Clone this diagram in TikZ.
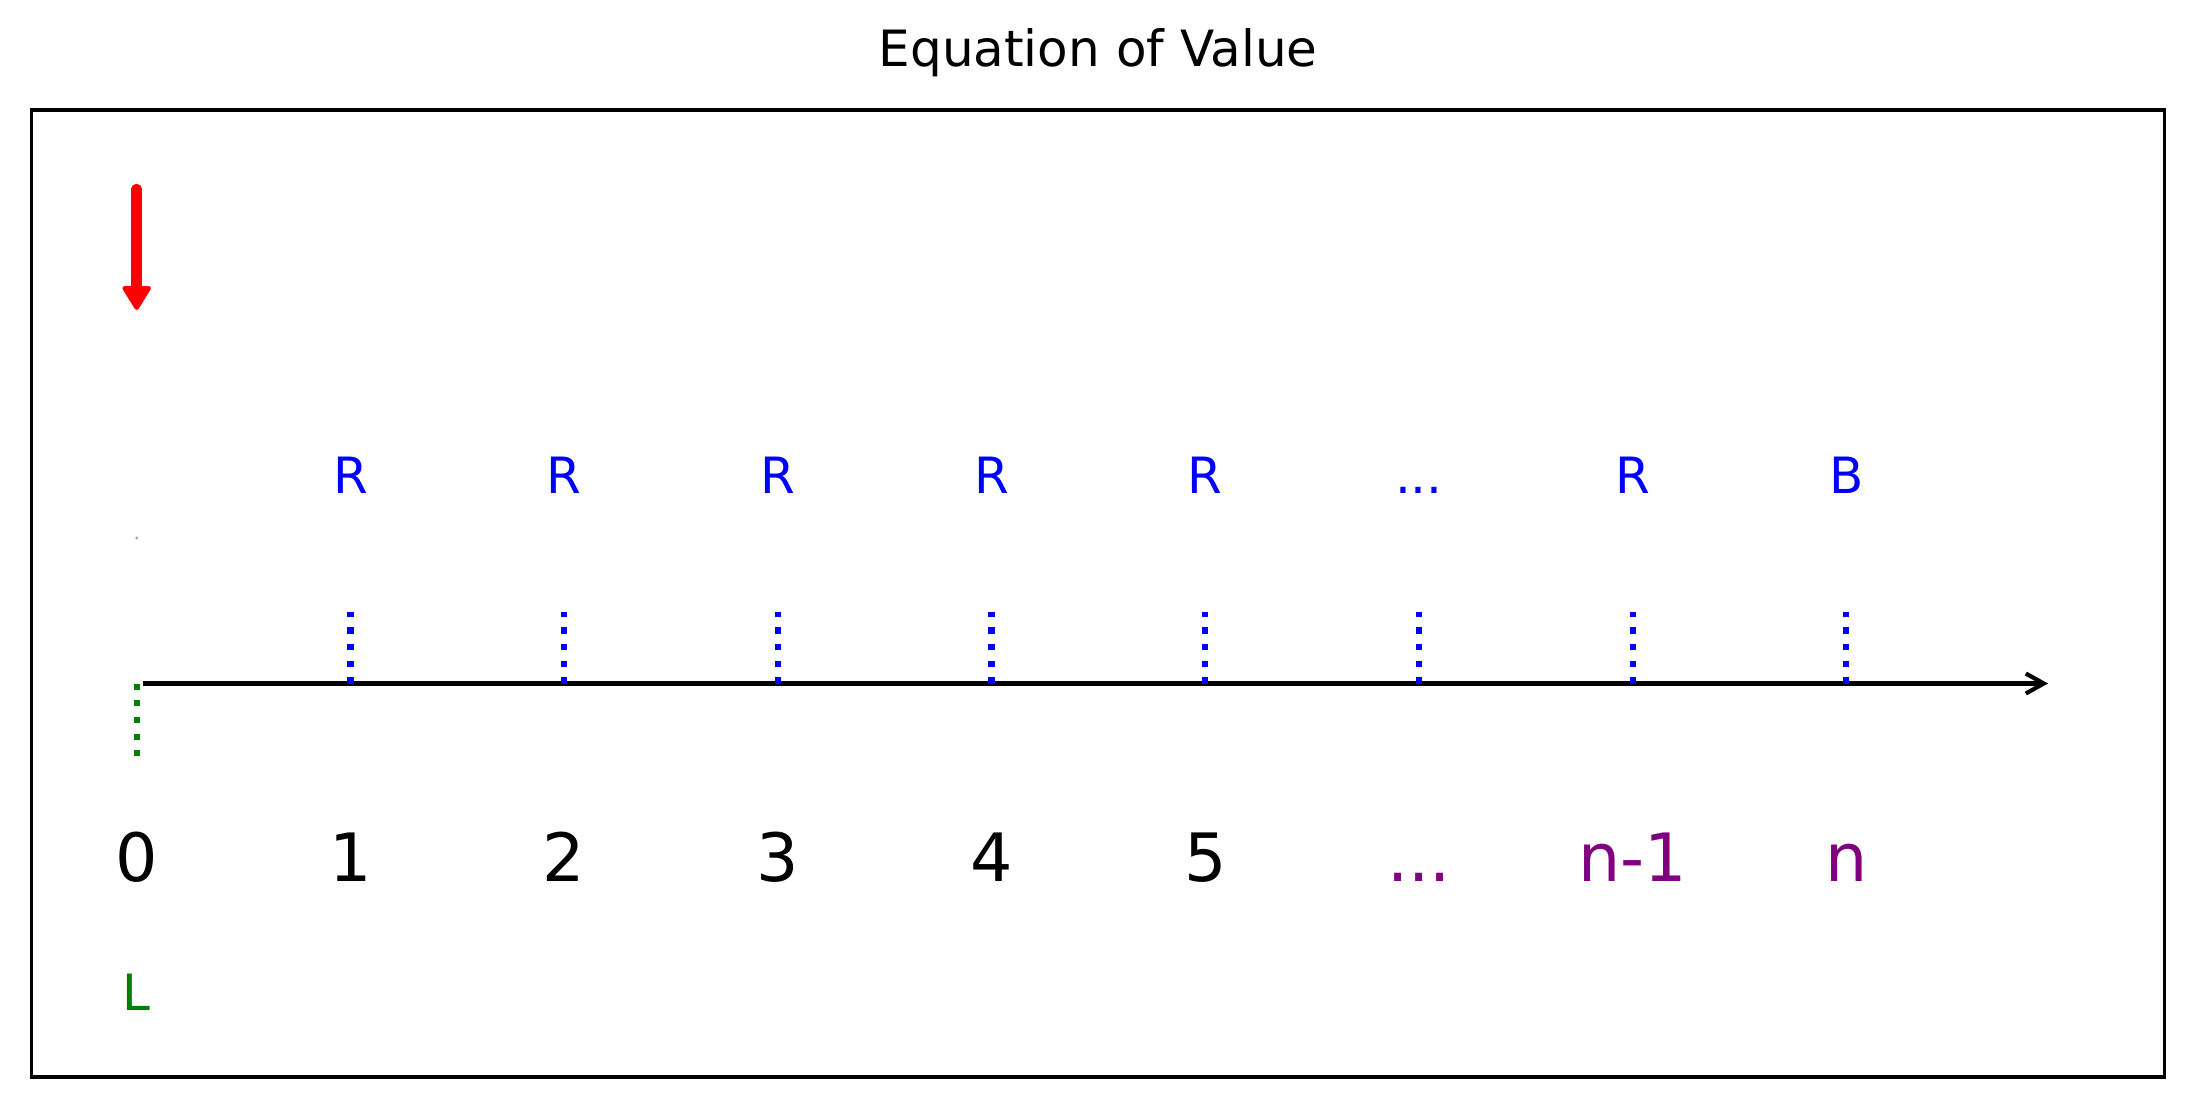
\documentclass[tikz,border=0pt]{standalone}
\usepackage{fontspec}
\setmainfont{DejaVu Sans}
\usetikzlibrary{arrows.meta}
\tikzset{>={Straight Barb[length=4.3pt,width=4.8pt]}}
\definecolor{mplgreen}{RGB}{0,128,0}
\definecolor{mplpurple}{RGB}{128,0,128}
\newcommand{\tdots}{...}
\tikzset{
  cash/.style={anchor=base, font=\fontsize{12}{14}\selectfont},
  period/.style={anchor=base, font=\fontsize{16}{19}\selectfont},
  tickline/.style={line width=1.5pt, dash pattern=on 1.5pt off 2.5pt},
}

\begin{document}
\begin{tikzpicture}[x=0.24pt, y=-0.24pt]
\useasboundingbox (0,0) rectangle (2196,1109);
\node (title) [cash] at (1098,66.7) {Equation of Value};
\draw [line width=0.8pt] (31.5,110) rectangle (2164.5,1077);
\coordinate (start) at (143,683.5);
\coordinate (end) at (2048,683.5);
\path [draw, ->, line width=1pt] (start) -- (end);
\coordinate (base0) at (136.7,683.5);
\coordinate (low0) at (136.7,756);
\path [draw, tickline, mplgreen] (base0) -- (low0);
\node (per0) [period] at (136.7,881) {0};
\node (loan) [cash, text=mplgreen] at (136.7,1010) {L};
\node (zero) [circle, fill=gray!70, inner sep=0pt, minimum size=0.8pt] at (136.7,538) {};
\coordinate (outtop) at (136.7,189);
\coordinate (outtip) at (136.7,310);
\path [draw, red, line width=2.5pt, line cap=round, -{Triangle[length=6.2pt,width=7.4pt,line join=round,line width=1pt]}] (outtop) -- (outtip);
\foreach \i/\amt/\per/\col in {1/R/1/black, 2/R/2/black, 3/R/3/black, 4/R/4/black, 5/R/5/black, 6/\tdots/\tdots/mplpurple, 7/R/n-1/mplpurple, 8/B/n/mplpurple} {
  \coordinate (base\i) at ({136.7+213.7*\i},683.5);
  \coordinate (tick\i) at ({136.7+213.7*\i},612);
  \path [draw, tickline, blue] (base\i) -- (tick\i);
  \node (amt\i) [cash, text=blue] at ({136.7+213.7*\i},494) {\amt};
  \node (per\i) [period, text=\col] at ({136.7+213.7*\i},881) {\per};
}
\end{tikzpicture}
\end{document}
